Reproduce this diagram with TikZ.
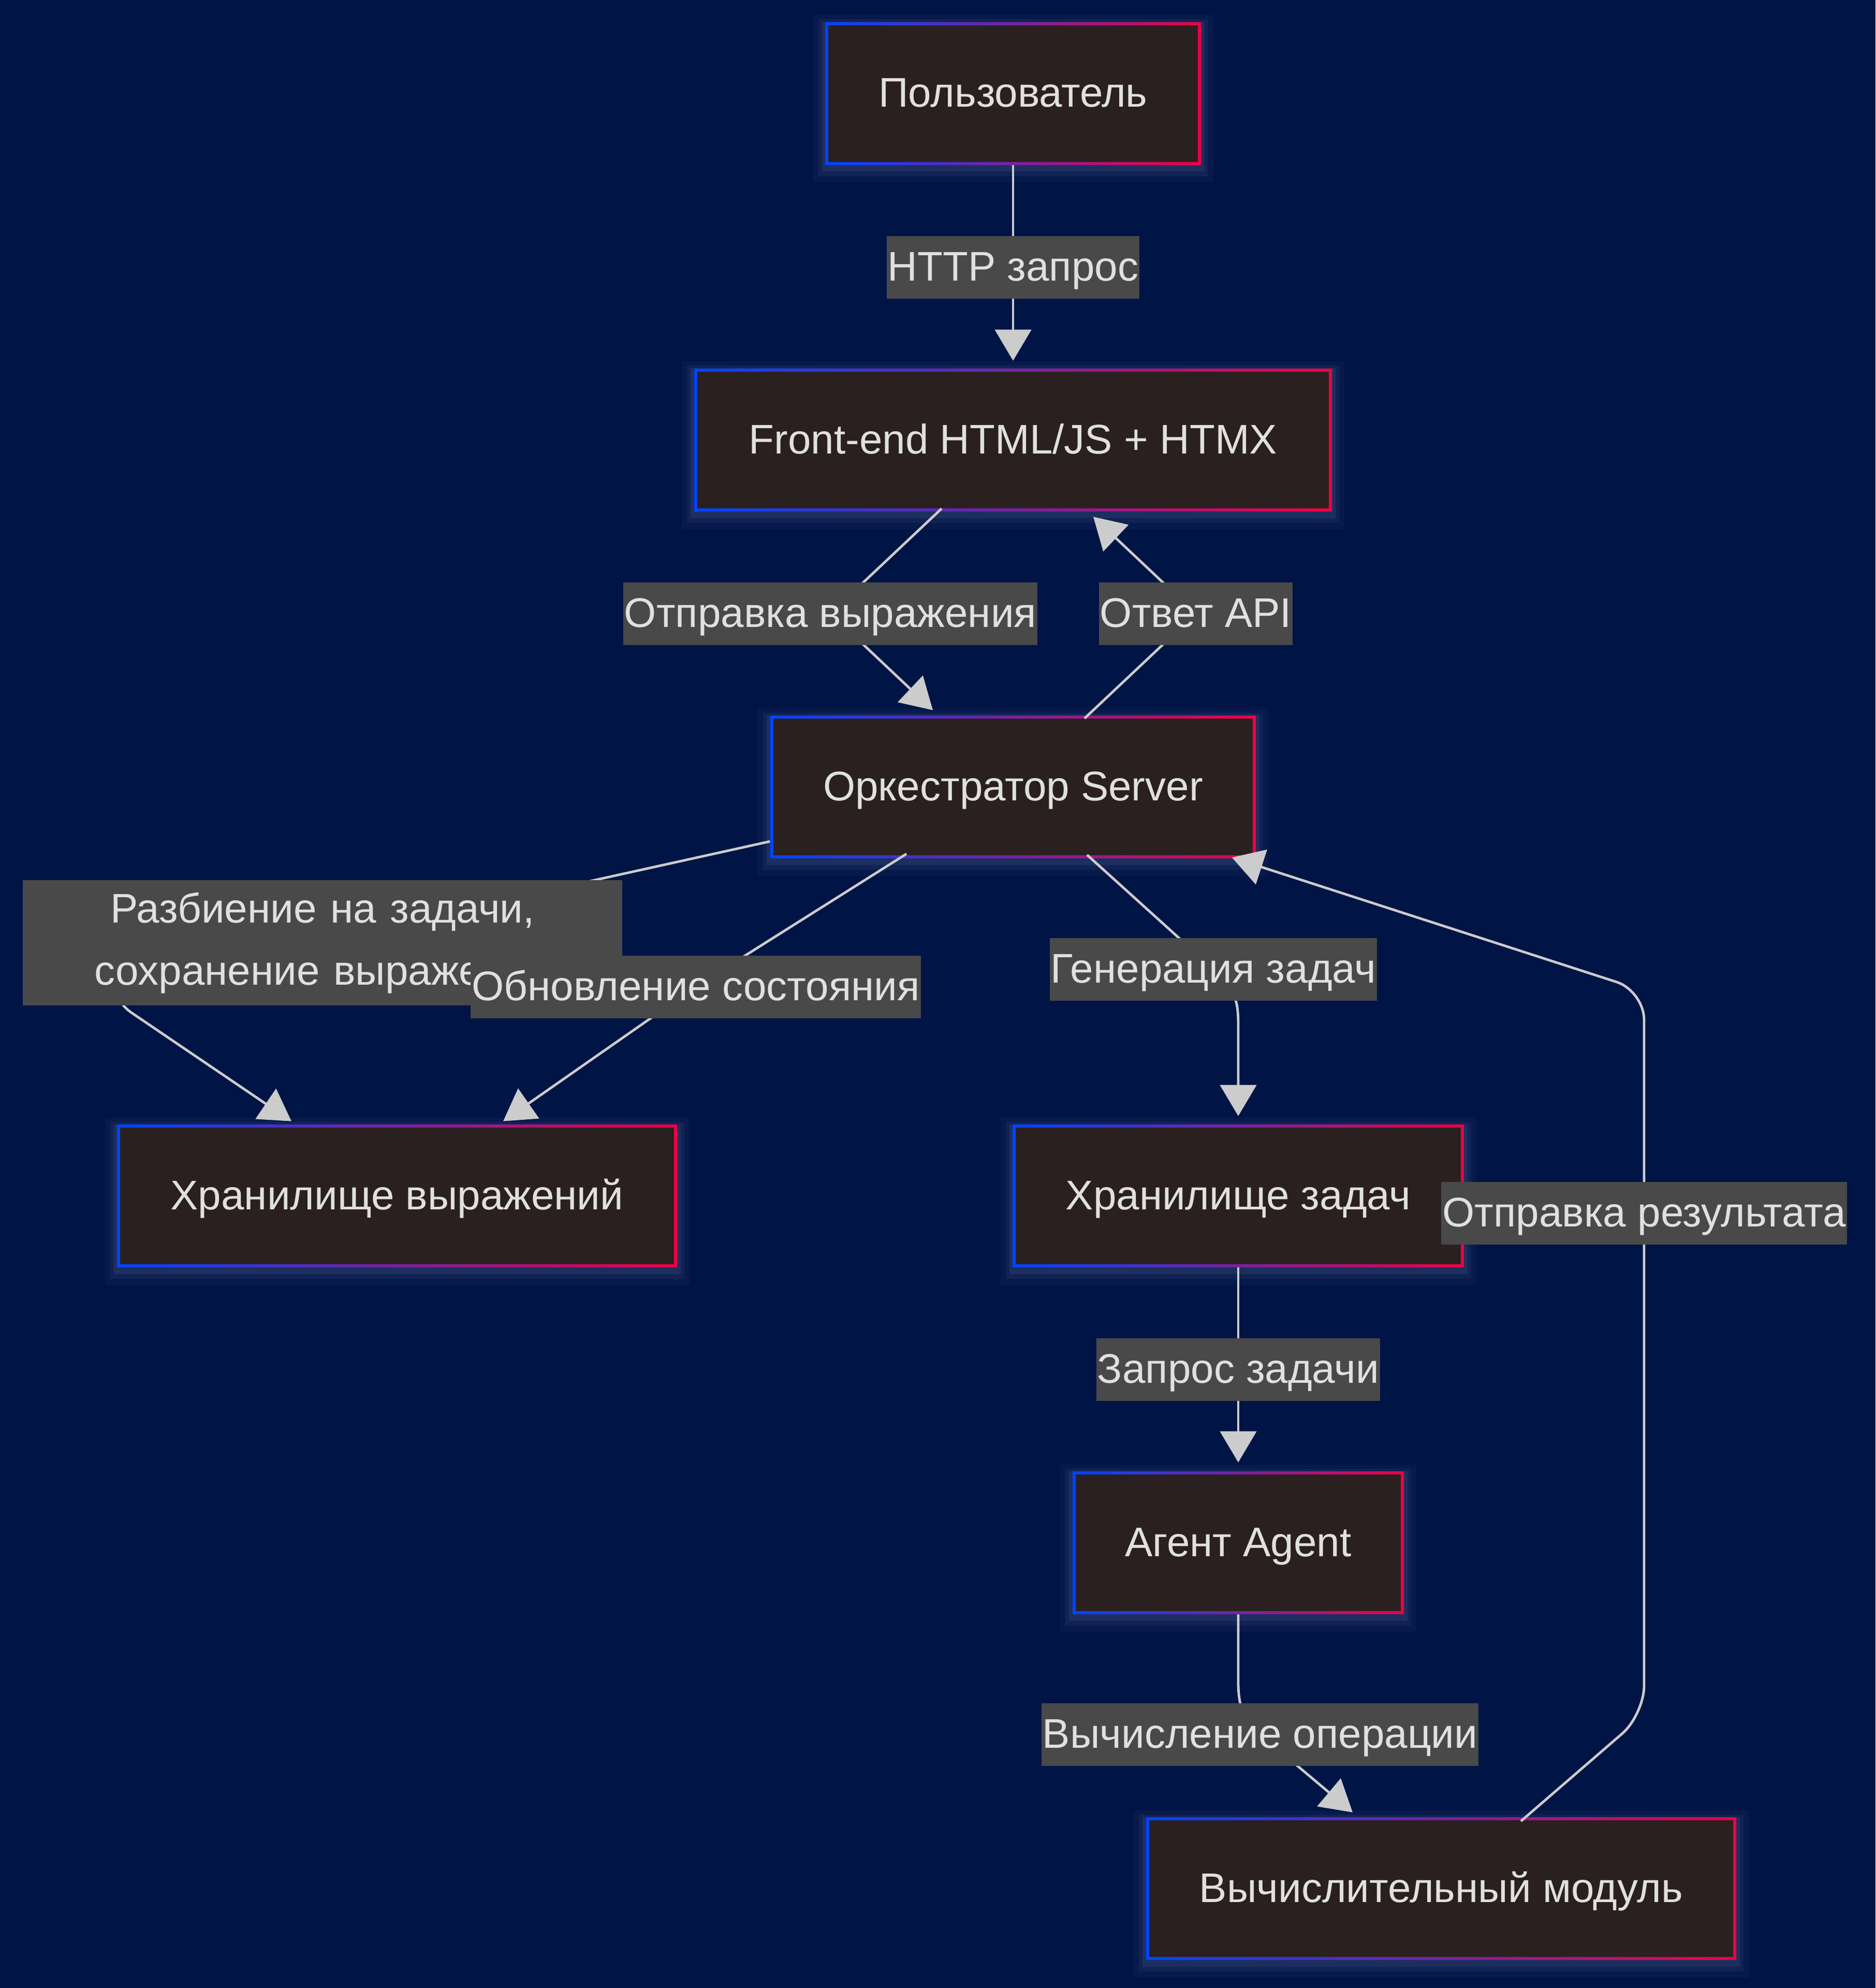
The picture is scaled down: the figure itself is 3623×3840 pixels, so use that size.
\documentclass[tikz,border=0pt]{standalone}
\usepackage{fontspec}
\setmainfont{Liberation Sans}
\usetikzlibrary{arrows.meta,calc}
\definecolor{bg}{RGB}{1,20,70}
\definecolor{nfill}{RGB}{42,32,32}
\definecolor{lfill}{RGB}{72,73,72}
\definecolor{txt}{RGB}{224,224,224}
\definecolor{edgec}{RGB}{204,204,204}
\definecolor{nblue}{RGB}{0,68,255}
\definecolor{nred}{RGB}{240,0,68}
\definecolor{glowc}{RGB}{200,210,240}
\pgfdeclarelayer{front}
\pgfsetlayers{main,front}
\tikzset{
  box/.style={rectangle, inner sep=0pt, minimum height=68.75pt,
    preaction={draw=glowc, draw opacity=0.035, line width=12pt, transform canvas={yshift=-2.5pt}},
    preaction={draw=glowc, draw opacity=0.05, line width=7pt, transform canvas={yshift=-2pt}},
    preaction={draw=glowc, draw opacity=0.07, line width=3.5pt, transform canvas={yshift=-1.5pt}},
    left color=nblue, right color=nred, text=txt,
    font=\fontsize{20}{24}\selectfont, text height=16.75pt, text depth=3.75pt,
    path picture={\fill[nfill] ([shift={(1.4pt,-1.4pt)}]path picture bounding box.north west) rectangle ([shift={(-1.4pt,1.4pt)}]path picture bounding box.south east);}},
  lblbase/.style={rectangle, fill=lfill, inner xsep=0.5pt, inner ysep=0pt, text=txt},
  lbl/.style={lblbase, minimum height=30.25pt, font=\fontsize{20}{24}\selectfont, text height=16.75pt, text depth=3.75pt},
  conn/.style={draw=edgec, line width=1.2pt, -{Triangle[length=15pt,width=17.5pt]}},
}
\begin{document}
\begin{tikzpicture}[x=0.25pt,y=-0.25pt]
\fill[bg] (0,0) rectangle (3623,3840);
\useasboundingbox (0,0) rectangle (3623,3840);

% nodes
\node[box, minimum width=181.25pt] (user) at (1957,181) {Пользователь};
\node[box, minimum width=308pt] (fe) at (1957,850) {Front-end HTML/JS + HTMX};
\node[box, minimum width=234.5pt] (orch) at (1957,1520) {Оркестратор Server};
\node[box, minimum width=270.25pt] (es) at (767,2310) {Хранилище выражений};
\node[box, minimum width=217.75pt] (ts) at (2392,2310) {Хранилище задач};
\node[box, minimum width=160pt] (ag) at (2392,2980) {Агент Agent};
\node[box, minimum width=285pt] (cm) at (2784,3648) {Вычислительный модуль};

% edge labels (front layer)
\begin{pgfonlayer}{front}
\node[lbl] (l1) at (1957,517) {HTTP запрос};
\node[lbl] (l2) at (1604,1185) {Отправка выражения};
\node[lbl] (l3) at (2310,1185) {Ответ API};
\node[lblbase, minimum width=288.5pt, minimum height=60.5pt, text width=288.5pt, align=center,
      font=\fontsize{20}{30}\selectfont] (l4) at (623,1821) {Разбиение на задачи,\\сохранение выражения};
\node[lbl] (l5) at (1344,1906) {Обновление состояния};
\node[lbl] (l6) at (2344,1872) {Генерация задач};
\node[lbl] (l7) at (3176,2343) {Отправка результата};
\node[lbl] (l8) at (2392,2645) {Запрос задачи};
\node[lbl] (l9) at (2434,3350) {Вычисление операции};
\end{pgfonlayer}

% connectors
\draw[conn] (user.south) -- (l1.center) -- ($(fe.north)+(0,-15)$);
\draw[conn] ($(fe.south)+(-138,-6)$) -- (l2.center) -- ($(orch.north)+(-155,-10)$);
\draw[conn] ($(orch.north)+(138,6)$) -- (l3.center) -- ($(fe.south)+(155,10)$);
\draw[conn, rounded corners=20pt] ($(orch.south west)+(0,-33)$) -- (189,1912) -- ($(es.north)+(-204,-6)$);
\draw[conn] ($(orch.south)+(-206,-9)$) -- (l5.center) -- ($(es.north)+(205,-6)$);
\draw[conn] ($(orch.south)+(143,-7)$) -- (l6.center) .. controls (2392,1916) and (2392,1940) .. (2392,1990) -- ($(ts.north)+(0,-16)$);
\draw[conn, rounded corners=14pt] ($(cm.north)+(154,8)$) -- (3176,3312) -- (l7.center) -- (3176,1914) -- ($(orch.south east)+(-47,-2)$);
\draw[conn] (ts.south) -- (l8.center) -- ($(ag.north)+(0,-17)$);
\draw[conn] (ag.south) -- (2392,3250) .. controls (2392,3300) and (2405,3325) .. (l9.center) -- ($(cm.north)+(-171,-9)$);
\end{tikzpicture}
\end{document}
